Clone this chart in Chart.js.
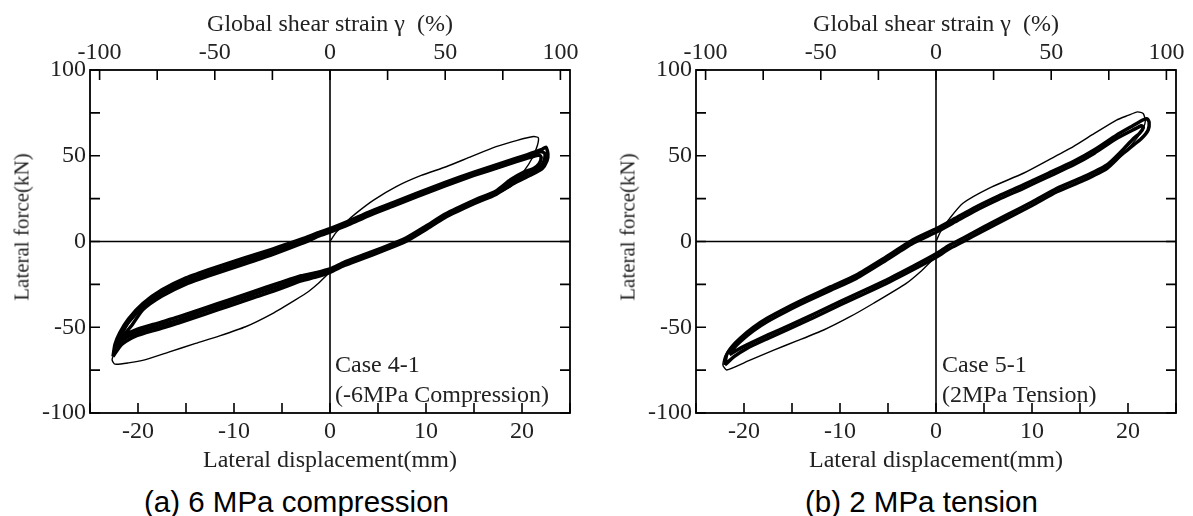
<!DOCTYPE html>
<html>
<head>
<meta charset="utf-8">
<script src="https://cdn.jsdelivr.net/npm/chart.js@4.4.1/dist/chart.umd.min.js"></script>
<style>
html,body{margin:0;padding:0;background:#fff;}
body{width:1193px;height:516px;position:relative;overflow:hidden;}
canvas{position:absolute;top:0;}
.txt{position:absolute;font-family:'Liberation Serif','Times New Roman',serif;font-size:24px;color:#222;white-space:nowrap;line-height:1;}
.cap{position:absolute;font-family:'Liberation Sans',Arial,sans-serif;font-size:29.5px;color:#000;white-space:nowrap;line-height:1;}
.ytitle{position:absolute;font-family:'Liberation Serif','Times New Roman',serif;font-size:21px;color:#222;white-space:nowrap;line-height:1;transform:translate(-50%,-50%) rotate(-90deg);}
</style>
</head>
<body>
<canvas id="cA" width="606" height="480" style="left:0"></canvas>
<canvas id="cB" width="587" height="480" style="left:606px"></canvas>

<div class="ytitle" style="left:22px;top:227px;">Lateral force(kN)</div>
<div class="ytitle" style="left:628px;top:227px;">Lateral force(kN)</div>

<div class="txt" style="left:335px;top:352px;">Case 4-1</div>
<div class="txt" style="left:335px;top:382px;">(-6MPa Compression)</div>
<div class="txt" style="left:942px;top:352px;">Case 5-1</div>
<div class="txt" style="left:942px;top:382px;">(2MPa Tension)</div>

<div class="cap" style="left:144px;top:487px;">(a) 6 MPa compression</div>
<div class="cap" style="left:805px;top:487px;">(b) 2 MPa tension</div>

<script>
// ---------- tick labels ----------
const dispTickLabels = [-20, -10, 0, 10, 20];          // Lateral displacement (mm)
const strainTickLabels = [-100, -50, 0, 50, 100];     // Global shear strain (%)
const forceTickLabels = [-100, -50, 0, 50, 100];      // Lateral force (kN)
const dispRange = [-25, 25];
const strainRange = [-104.1667, 104.1667];
const forceRange = [-100, 100];

// ---------- Case 4-1 (-6 MPa compression) ----------
const caseA_firstX = [0, 0.6, 1.6, 2.7, 4.5, 6.9, 9.5, 12.1, 14.7, 17.3, 19.5, 21.2, 21.7, 21.6, 21.1, 20.2, 19, 17.3, 15, 12, 8, 4, 1.5, 0, -1.2, -2.2, -3.6, -6, -8.8, -11.5, -14, -16.8, -19.3, -21, -22.4, -22.7, -22.4, -21.8, -21, -19.5, -17.5, -15, -12, -9, -6, -3, 0, 2];
const caseA_firstY = [0, 5, 11, 16.4, 24, 32, 38.5, 43.6, 49.5, 55.3, 59, 61.2, 60.5, 56, 49, 41, 33, 27.5, 22, 14, 0, -9, -14, -18, -24.4, -29, -34, -42, -49.7, -55, -59.4, -64.5, -69, -70.8, -71.5, -69, -64, -56, -48, -39, -31, -24, -17.5, -12, -6.5, -0.5, 6, 10.5];

const caseA_outerX = [-22.6, -22.4, -21.9, -21, -19.5, -17.5, -15, -12, -9, -6, -3, -1, 0, 2, 4, 6.5, 9, 12, 15, 18, 20.5, 22, 22.5, 22.7, 22.6, 22.1, 20.8, 19.2, 17.3, 15, 12, 10, 7.9, 5.5, 3.4, 1.5, 0, -1.5, -3, -5.3, -8, -10.6, -13, -15.8, -18, -20.3, -21.7, -22.6];
const caseA_outerY = [-67, -60, -53.2, -45.2, -36.2, -28.2, -21.2, -15.2, -9.7, -4.4, 1.3, 5.6, 7.5, 12, 17, 22.5, 28, 34.5, 40.5, 46, 50.5, 53.5, 55, 51, 47, 42.5, 38.5, 34, 27.5, 22, 14, 7, 0, -5.5, -10, -14, -18, -20.8, -23, -27.8, -32.8, -37.8, -42.3, -47.6, -51.3, -55.3, -60, -67];

const caseA_midX = [-22.3, -21.8, -21, -19.5, -17.5, -15, -12, -9, -6, -3, -1, 0, 2, 4, 6.5, 9, 12, 15, 18, 20.5, 22, 22.4, 22.3, 21.8, 20.5, 19, 17.3, 15, 12, 10, 7.9, 5.5, 3.4, 1.5, 0, -1.5, -3, -5.3, -8, -10.6, -13, -15.8, -18, -20.3, -21.5, -22.3];
const caseA_midY = [-62, -55, -47, -38, -30, -23, -17, -11.5, -6, 0, 4.5, 6.5, 11, 16, 21.5, 27, 33.5, 39.5, 45, 49.5, 52.5, 51, 47, 43, 39.5, 35, 28.5, 23, 15, 8, 1, -4.5, -9, -13, -17, -19.5, -21.5, -26, -31, -36, -40.5, -45.8, -49.5, -53.5, -57, -62];

const caseA_innerX = [-21.9, -21.4, -20.6, -19.5, -17.5, -15, -12, -9, -6, -3, -1, 0, 2, 4, 6.5, 9, 12, 15, 18, 20.5, 21.8, 22, 21.8, 21.2, 20.2, 18.8, 17.3, 15, 12, 10, 7.9, 5.5, 3.4, 1.5, 0, -1.5, -3, -5.3, -8, -10.6, -13, -15.8, -18, -20.3, -21.3, -21.9];
const caseA_innerY = [-58, -54, -48.5, -39.8, -31.8, -24.8, -18.8, -13.3, -7.6, -1.3, 3.5, 5.5, 10, 15, 20.5, 26, 32.5, 38.5, 44, 48.5, 50.5, 49, 45.5, 42.5, 40.5, 36, 29.5, 24, 16, 9, 2, -3.5, -8, -12, -16, -18.2, -20, -24.2, -29.2, -34.2, -38.7, -44, -47.7, -51.7, -54.5, -58];

// ---------- Case 5-1 (2 MPa tension) ----------
const caseB_firstX = [0, 0.5, 1.5, 2.8, 5.5, 9.1, 11.7, 14.3, 16.5, 18.8, 20, 21, 21.6, 21.8, 21.4, 20.6, 19.5, 17.8, 15.3, 12.6, 7.4, 2.8, 0, -1.5, -3.1, -6.5, -9, -11.7, -14.5, -16.9, -19.5, -21.8, -22.2, -22, -21.3, -20.4, -17.6, -13.5, -8.3, -2.4, 0, 2];
const caseB_firstY = [0, 6, 14, 22.3, 31, 39.8, 47.5, 55.3, 63, 70.8, 73.5, 75.6, 74.5, 70, 64, 58, 51, 43, 35.5, 29, 13.5, 0, -9, -17, -24.4, -36, -44, -51.6, -58, -63.3, -69.5, -74.9, -72, -67, -61, -56.5, -45, -33.5, -20, 0.5, 7, 12.5];

const caseB_outerX = [-22, -21.8, -21.2, -20.4, -19, -17.6, -15.5, -13.5, -11, -8.3, -5.5, -2.4, 0.1, 2, 3.9, 6.5, 9.1, 11.7, 14.3, 16.5, 18.8, 20.5, 21.6, 22, 22.2, 22.1, 21.4, 20.3, 19.3, 17.8, 15.3, 12.6, 10, 7.4, 5, 2.8, 1.3, 0.1, -2.4, -4.8, -7.4, -10, -12.6, -15.2, -17.5, -19.7, -21, -22];
const caseB_outerY = [-72, -66, -61, -56.4, -50, -44.8, -38.5, -33, -26.5, -19.5, -10, 1, 7.7, 13.5, 19.4, 26.5, 33, 39.8, 46.6, 53.5, 62, 67.5, 71, 71.5, 69.5, 65, 60, 55, 50.5, 42.6, 35.5, 29, 21, 13.5, 6.5, -0.1, -4.5, -8.9, -16.5, -23.4, -30.3, -37, -44, -50.7, -56.5, -62.3, -67, -72];

const caseB_innerX = [-21.5, -21.1, -20.4, -19, -17.6, -15.5, -13.5, -11, -8.3, -5.5, -2.4, 0.1, 2, 3.9, 6.5, 9.1, 11.7, 14.3, 16.5, 18.8, 20.5, 21.4, 21.6, 21.2, 20.6, 19.3, 17.8, 15.3, 12.6, 10, 7.4, 5, 2.8, 1.3, 0.1, -2.4, -4.8, -7.4, -10, -12.6, -15.2, -17.5, -19.7, -20.8, -21.5];
const caseB_innerY = [-66, -62.5, -58.4, -52, -46.8, -40.5, -35, -28.5, -21.5, -12, -1, 5.7, 11.5, 17.4, 24.5, 31, 37.8, 44.6, 51.5, 60, 65, 67.5, 66.5, 63, 60.2, 52.5, 44.6, 37.5, 31, 23, 15.5, 8.5, 1.9, -2.5, -6.9, -14.5, -21.4, -28.3, -35, -42, -48.7, -54.5, -60.3, -63.5, -66];

// ---------- helpers ----------
function pts(xs, ys) { return xs.map((x, i) => ({x: x, y: ys[i]})); }

const TEXT = '#222';
const SERIF = "'Liberation Serif','Times New Roman',serif";

const framePlugin = {
  id: 'frame',
  beforeDatasetsDraw(chart) {
    const {ctx, chartArea: a, scales} = chart;
    const x0 = scales.x.getPixelForValue(0);
    const y0 = scales.y.getPixelForValue(0);
    ctx.save();
    ctx.strokeStyle = '#000';
    ctx.lineWidth = 1.6;
    ctx.beginPath();
    ctx.moveTo(x0, a.top); ctx.lineTo(x0, a.bottom);
    ctx.moveTo(a.left, y0); ctx.lineTo(a.right, y0);
    ctx.stroke();
    ctx.restore();
  },
  afterDatasetsDraw(chart) {
    const {ctx, chartArea: a, scales} = chart;
    const L = 10;
    ctx.save();
    ctx.strokeStyle = '#000';
    ctx.lineWidth = 1.6;
    ctx.beginPath();
    scales.x.ticks.forEach(t => {
      const p = scales.x.getPixelForValue(t.value);
      ctx.moveTo(p, a.bottom); ctx.lineTo(p, a.bottom - L);
    });
    scales.x2.ticks.forEach(t => {
      const p = scales.x2.getPixelForValue(t.value);
      ctx.moveTo(p, a.top); ctx.lineTo(p, a.top + L);
    });
    scales.y.ticks.forEach(t => {
      const p = scales.y.getPixelForValue(t.value);
      ctx.moveTo(a.left, p); ctx.lineTo(a.left + L, p);
      ctx.moveTo(a.right, p); ctx.lineTo(a.right - L, p);
    });
    ctx.stroke();
    ctx.lineWidth = 1.8;
    ctx.strokeRect(a.left, a.top, a.right - a.left, a.bottom - a.top);
    ctx.restore();
  }
};

function lineDs(data, w) {
  return {
    data: data, showLine: true, pointRadius: 0, borderColor: '#000',
    backgroundColor: '#000', borderWidth: w, tension: 0.2, fill: false
  };
}

function makeChart(id, rightPad, loops) {
  return new Chart(document.getElementById(id), {
    type: 'scatter',
    data: {datasets: loops.map(l => lineDs(pts(l[0], l[1]), l[2]))},
    options: {
      responsive: false,
      animation: false,
      devicePixelRatio: 1,
      layout: {padding: {left: 0, right: rightPad, top: 0, bottom: 0}},
      plugins: {legend: {display: false}, tooltip: {enabled: false}},
      scales: {
        x: {
          type: 'linear', position: 'bottom',
          min: dispRange[0], max: dispRange[1],
          grid: {display: false, drawTicks: false}, border: {display: false},
          ticks: {
            stepSize: 5, autoSkip: false, maxRotation: 0, padding: 4,
            color: TEXT, font: {family: SERIF, size: 24},
            callback: v => dispTickLabels.includes(v) ? String(v) : ''
          },
          title: {display: true, text: 'Lateral displacement(mm)', color: TEXT,
                  font: {family: SERIF, size: 24}, padding: {top: 0, bottom: 4.5}},
          afterFit: s => { s.height = 67; }
        },
        x2: {
          type: 'linear', position: 'top', axis: 'x',
          min: strainRange[0], max: strainRange[1],
          grid: {display: false, drawTicks: false}, border: {display: false},
          ticks: {
            stepSize: 25, includeBounds: false, autoSkip: false, maxRotation: 0, padding: 3,
            color: TEXT, font: {family: SERIF, size: 24},
            callback: v => strainTickLabels.includes(v) ? String(v) : ''
          },
          title: {display: true, text: 'Global shear strain \u03b3  (%)', color: TEXT,
                  font: {family: SERIF, size: 24}, padding: {top: 10.5, bottom: 0}},
          afterFit: s => { s.height = 70; }
        },
        y: {
          type: 'linear', position: 'left',
          min: forceRange[0], max: forceRange[1],
          grid: {display: false, drawTicks: false}, border: {display: false},
          ticks: {
            stepSize: 25, autoSkip: false, padding: 4,
            color: TEXT, font: {family: SERIF, size: 24},
            callback: v => forceTickLabels.includes(v) ? String(v) : ''
          },
          afterFit: s => { s.width = 90; }
        }
      }
    },
    plugins: [framePlugin]
  });
}

makeChart('cA', 36, [
  [caseA_outerX, caseA_outerY, 3.5],
  [caseA_midX, caseA_midY, 3.5],
  [caseA_innerX, caseA_innerY, 3.5],
  [caseA_firstX, caseA_firstY, 1.4]
]);
makeChart('cB', 17, [
  [caseB_outerX, caseB_outerY, 3.5],
  [caseB_innerX, caseB_innerY, 3.5],
  [caseB_firstX, caseB_firstY, 1.4]
]);
</script>
</body>
</html>
